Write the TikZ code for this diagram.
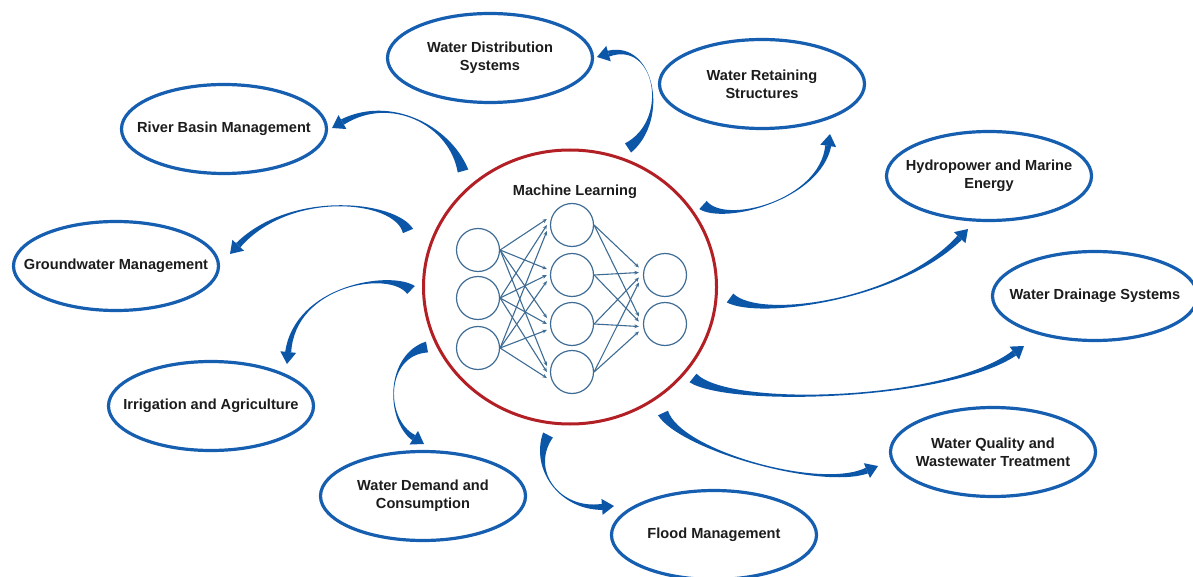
\documentclass[tikz,border=0pt]{standalone}
\usepackage{fontspec}
\setmainfont{Liberation Sans}
\usetikzlibrary{shapes.geometric,arrows.meta,calc}

\definecolor{ringblue}{RGB}{22,94,176}
\definecolor{flowblue}{RGB}{12,86,168}
\definecolor{mlred}{RGB}{178,32,38}
\definecolor{netblue}{RGB}{62,108,148}
\definecolor{labelgray}{RGB}{28,28,28}

% tapered curved arrow: start, first control, second control, tip
\newcommand\flowarrow[4]{%
  \coordinate (fa-base) at ($(#4)!12pt!(#3)$);
  \fill[flowblue] ($(#1)!5.5pt!90:(#2)$) .. controls (#2) and (#3) .. ($(fa-base)!3pt!-90:(#3)$)
     -- ($(fa-base)!3pt!90:(#3)$) .. controls (#3) and (#2) .. ($(#1)!5.5pt!-90:(#2)$) -- cycle;
  \fill[flowblue] (#4) -- ($(fa-base)!8pt!90:(#3)$) -- ($(fa-base)!8pt!-90:(#3)$) -- cycle;
}

\begin{document}
\begin{tikzpicture}[x=1pt,y=-1pt,
  topic/.style={ellipse, draw=ringblue, line width=3.2pt, fill=white,
    minimum width=205pt, minimum height=89pt, inner sep=0pt,
    label={[align=center, font=\fontsize{14.6}{18}\selectfont\bfseries, text=labelgray]center:#1}},
  neuron/.style={circle, draw=netblue, line width=1.2pt, minimum size=43pt, inner sep=0pt},
  link/.style={draw=netblue, line width=1.1pt, -{Stealth[length=4.5pt,width=3.8pt]}},
]
\useasboundingbox (0,0) rectangle (1193,577);

% central machine-learning ring
\node[ellipse, draw=mlred, line width=3pt, minimum width=293pt, minimum height=274pt,
  inner sep=0pt] (ml) at (570,287) {};
\node[font=\fontsize{14.6}{18}\selectfont\bfseries, text=labelgray] (mltitle) at (575,192) {Machine Learning};

% neural network
\node[neuron] (a1) at (478,250) {};
\node[neuron] (a2) at (478,298) {};
\node[neuron] (a3) at (478,348) {};
\node[neuron] (b1) at (572,225) {};
\node[neuron] (b2) at (572,275) {};
\node[neuron] (b3) at (572,324) {};
\node[neuron] (b4) at (572,372) {};
\node[neuron] (c1) at (665,275) {};
\node[neuron] (c2) at (665,324) {};
\foreach \i in {1,2,3}
  \foreach \j in {1,2,3,4}
    \draw[link] (a\i.east) -- ($(b\j.west)+(-3,{(\i-2)*6})$);
\foreach \j in {1,2,3,4}
  \foreach \k in {1,2}
    \draw[link] (b\j.east) -- ($(c\k.west)+(-4,{(\j-2.5)*5})$);

% application areas
\node[topic={Water Distribution\\Systems}] (wds) at (490,58) {};
\node[topic={Water Retaining\\Structures}] (wrs) at (762,84) {};
\node[topic={River Basin Management}] (rbm) at (224,129) {};
\node[topic={Groundwater Management}] (gwm) at (116,266) {};
\node[topic={Irrigation and Agriculture}] (iag) at (211,406) {};
\node[topic={Water Demand and\\Consumption}] (wdc) at (423,496) {};
\node[topic={Flood Management}] (flm) at (714,535) {};
\node[topic={Water Quality and\\Wastewater Treatment}] (wqt) at (993,452) {};
\node[topic={Water Drainage Systems}] (wdr) at (1095,296) {};
\node[topic={Hydropower and Marine\\Energy}] (hyd) at (989,176) {};

% arrow end points
\coordinate (s-wds) at (628,148);  \coordinate (t-wds) at (597,57);
\coordinate (s-wrs) at (703,205);  \coordinate (t-wrs) at (830,134);
\coordinate (s-rbm) at (463,171);  \coordinate (t-rbm) at (332,128);
\coordinate (s-gwm) at (408,231);  \coordinate (t-gwm) at (230,254);
\coordinate (s-iag) at (411,290);  \coordinate (t-iag) at (287,364);
\coordinate (s-wdc) at (427,347);  \coordinate (t-wdc) at (424,444);
\coordinate (s-flm) at (548,435);  \coordinate (t-flm) at (614,506);
\coordinate (s-wqt) at (663,413);  \coordinate (t-wqt) at (878,466);
\coordinate (s-wdr) at (693,378);  \coordinate (t-wdr) at (1024,346);
\coordinate (s-hyd) at (730,298);  \coordinate (t-hyd) at (968,229);

\flowarrow{s-wds}{670,120}{655,40}{t-wds}
\flowarrow{s-wrs}{725,225}{820,200}{t-wrs}
\flowarrow{s-rbm}{450,125}{390,95}{t-rbm}
\flowarrow{s-gwm}{395,200}{290,190}{t-gwm}
\flowarrow{s-iag}{390,270}{295,285}{t-iag}
\flowarrow{s-wdc}{385,355}{385,420}{t-wdc}
\flowarrow{s-flm}{530,470}{560,510}{t-flm}
\flowarrow{s-wqt}{680,450}{820,490}{t-wqt}
\flowarrow{s-wdr}{730,408}{950,400}{t-wdr}
\flowarrow{s-hyd}{760,320}{900,300}{t-hyd}
\end{tikzpicture}
\end{document}
